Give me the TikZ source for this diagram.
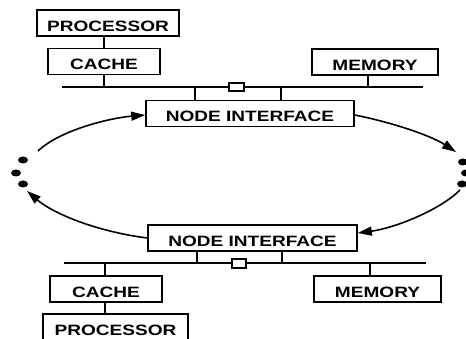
\documentclass[tikz,border=0pt]{standalone}
\usepackage{fontspec}
\setmainfont{Liberation Sans}[FakeStretch=1.27]
\usetikzlibrary{arrows.meta,shapes.geometric}
\begin{document}
\begin{tikzpicture}[x=1pt,y=-1pt, line width=1.6pt,
  box/.style={draw, rectangle, inner sep=0pt, font=\fontsize{15}{15}\selectfont\bfseries,
    text height=16.5pt, text depth=0pt, minimum height=26pt},
  tap/.style={draw, fill=white, rectangle, inner sep=0pt, line width=1.2pt},
  dot/.style={fill=black, ellipse, inner sep=0pt, minimum width=10pt, minimum height=7pt},
  arr/.style={-{Triangle[length=14pt,width=9pt]}}]
\useasboundingbox (0,0) rectangle (466,339);
\clip (0,0) rectangle (466,339);
% top module
\node[box, minimum width=142pt] (P1) at (108,23) {PROCESSOR};
\node[box, minimum width=112pt] (C1) at (104,61.5) {CACHE};
\node[box, minimum width=126pt] (M1) at (375,62) {MEMORY};
\node[box, minimum width=208pt] (N1) at (250,113.5) {NODE INTERFACE};
\coordinate (b1L) at (62,87);
\coordinate (b1R) at (423,87);
\draw (b1L) -- (b1R);
\node[tap, minimum width=15pt, minimum height=8pt] (s1) at (236.5,87) {};
\draw (C1.north) -- (C1.north |- P1.south);
\draw (C1.south) -- (C1.south |- b1L);
\draw ([xshift=-7pt]M1.south) -- ([xshift=-7pt]M1.south |- b1L);
\draw ([xshift=-55pt]N1.north) -- ([xshift=-55pt]N1.north |- b1L);
\draw ([xshift=31pt]N1.north) -- ([xshift=31pt]N1.north |- b1L);
% bottom module
\node[box, minimum width=209pt] (N2) at (252.5,238) {NODE INTERFACE};
\node[box, minimum width=112pt] (C2) at (106,289) {CACHE};
\node[box, minimum width=127pt] (M2) at (377.5,289) {MEMORY};
\node[box, minimum width=145pt] (P2) at (115.5,327) {PROCESSOR};
\coordinate (b2L) at (64,263);
\coordinate (b2R) at (426,263);
\draw (b2L) -- (b2R);
\node[tap, minimum width=14pt, minimum height=9pt] (s2) at (239,263.5) {};
\draw ([xshift=-55.5pt]N2.south) -- ([xshift=-55.5pt]N2.south |- b2L);
\draw ([xshift=29.5pt]N2.south) -- ([xshift=29.5pt]N2.south |- b2L);
\draw ([xshift=-1pt]C2.north) -- ([xshift=-1pt]C2.north |- b2L);
\draw ([xshift=-1pt]C2.south) -- ([xshift=-1pt]C2.south |- P2.north);
\draw ([xshift=-7.5pt]M2.north) -- ([xshift=-7.5pt]M2.north |- b2L);
% dots
\node[dot] (dl1) at (23,160) {};
\node[dot] (dl2) at (16,173) {};
\node[dot] (dl3) at (23,184) {};
\node[dot] (dr1) at (463,162) {};
\node[dot] (dr2) at (466,173) {};
\node[dot] (dr3) at (462,184) {};
% ring arcs
\coordinate (aTL) at (38,151);
\coordinate (aTR) at (456,152);
\coordinate (aBR) at (460,190);
\coordinate (aBL) at (27,191);
\draw[arr] (aTL) .. controls (60,130) and (110,118) .. ([yshift=-1.5pt]N1.west);
\draw[arr] ([yshift=-1.5pt]N1.east) .. controls (390,122) and (430,135) .. (aTR);
\draw[arr] (aBR) .. controls (440,210) and (395,228) .. ([yshift=5pt]N2.east);
\draw[arr] (N2.west) .. controls (100,232) and (55,215) .. (aBL);
\end{tikzpicture}
\end{document}
